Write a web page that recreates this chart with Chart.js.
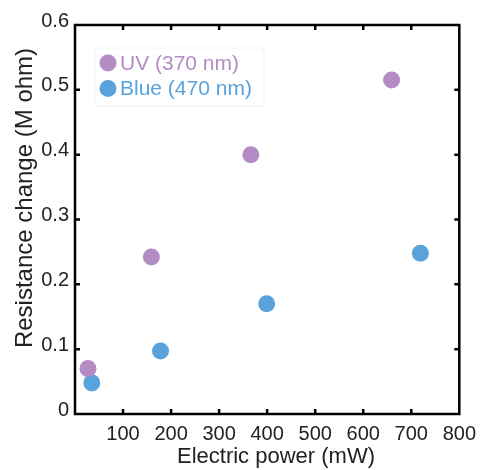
<!DOCTYPE html>
<html>
<head>
<meta charset="utf-8">
<script src="https://cdn.jsdelivr.net/npm/chart.js@4"></script>
<style>
  html, body { margin: 0; padding: 0; background: #fff; }
  #wrap { width: 484px; height: 470px; }
</style>
</head>
<body>
<div id="wrap"><canvas id="myChart" width="484" height="470"></canvas></div>
<script>
// data
const uvPower = [27, 159, 366, 659];
const uvResistance = [0.07, 0.242, 0.40, 0.515];
const bluePower = [35, 178, 399, 719];
const blueResistance = [0.048, 0.097, 0.17, 0.248];
const seriesNames = ['UV (370 nm)', 'Blue (470 nm)'];
const seriesColors = ['#b38cc4', '#5aa2db'];
const xTitle = 'Electric power (mW)';
const yTitle = 'Resistance change (M ohm)';

const fontFamily = '"Liberation Sans", Arial, sans-serif';

function toPoints(xs, ys) {
    return xs.map((x, i) => ({ x: x, y: ys[i] }));
}

// frame with inward ticks on all sides, axis titles, legend inside the plot
const frameTicks = {
    id: 'frameTicks',
    afterDraw(chart) {
        const ctx = chart.ctx;
        const a = chart.chartArea;
        const xs = chart.scales.x, ys = chart.scales.y;
        ctx.save();
        ctx.strokeStyle = '#000';
        ctx.lineWidth = 2.5;
        const len = 5;
        xs.ticks.forEach(t => {
            const px = xs.getPixelForValue(t.value);
            if (px <= a.left + 1 || px >= a.right - 1) return;
            ctx.beginPath();
            ctx.moveTo(px, a.bottom); ctx.lineTo(px, a.bottom - len);
            ctx.moveTo(px, a.top); ctx.lineTo(px, a.top + len);
            ctx.stroke();
        });
        ys.ticks.forEach(t => {
            const py = ys.getPixelForValue(t.value);
            if (py <= a.top + 1 || py >= a.bottom - 1) return;
            ctx.beginPath();
            ctx.moveTo(a.left, py); ctx.lineTo(a.left + len, py);
            ctx.moveTo(a.right, py); ctx.lineTo(a.right - len, py);
            ctx.stroke();
        });
        ctx.strokeRect(a.left, a.top, a.right - a.left, a.bottom - a.top);

        // axis titles
        ctx.fillStyle = '#222';
        ctx.textAlign = 'center';
        ctx.textBaseline = 'middle';
        ctx.font = '22px ' + fontFamily;
        ctx.fillText(xTitle, 276, 457);
        ctx.save();
        ctx.translate(25, 198);
        ctx.rotate(-Math.PI / 2);
        ctx.font = '24px ' + fontFamily;
        ctx.fillText(yTitle, 0, 0);
        ctx.restore();

        // legend
        ctx.strokeStyle = '#f3f3f3';
        ctx.lineWidth = 1;
        ctx.strokeRect(a.left + 20, a.top + 23, 169, 58);
        ctx.font = '21px ' + fontFamily;
        ctx.textAlign = 'left';
        seriesNames.forEach((name, i) => {
            const cy = a.top + 38 + i * 25.5;
            ctx.fillStyle = seriesColors[i];
            ctx.beginPath();
            ctx.arc(a.left + 33, cy, 8.5, 0, Math.PI * 2);
            ctx.fill();
            ctx.fillText(name, a.left + 45, cy + 1);
        });
        ctx.restore();
    }
};

const data = {
    datasets: seriesNames.map((name, i) => ({
        label: name,
        data: i === 0 ? toPoints(uvPower, uvResistance) : toPoints(bluePower, blueResistance),
        backgroundColor: seriesColors[i],
        borderWidth: 0,
        pointRadius: 8.5,
        pointHoverRadius: 8.5
    }))
};

const tickFont = { family: fontFamily, size: 20 };

const config = {
    type: 'scatter',
    data: data,
    options: {
        responsive: false,
        animation: false,
        layout: { padding: { top: 25, right: 21, left: 0, bottom: 0 } },
        plugins: { legend: { display: false }, tooltip: { enabled: false } },
        scales: {
            x: {
                type: 'linear',
                min: 0,
                max: 800,
                border: { display: false },
                grid: { display: false, drawTicks: false },
                ticks: {
                    stepSize: 100,
                    color: '#222',
                    font: tickFont,
                    padding: 8,
                    maxRotation: 0,
                    autoSkip: false,
                    callback: v => v === 0 ? '' : v
                },
                afterFit: s => { s.height = 56; }
            },
            y: {
                type: 'linear',
                min: 0,
                max: 0.6,
                border: { display: false },
                grid: { display: false, drawTicks: false },
                ticks: {
                    stepSize: 0.1,
                    color: '#222',
                    font: tickFont,
                    padding: 6,
                    labelOffset: -4,
                    callback: v => +v.toFixed(1)
                },
                afterFit: s => { s.width = 75; }
            }
        }
    },
    plugins: [frameTicks]
};

const ctx = document.getElementById('myChart').getContext('2d');
const myChart = new Chart(ctx, config);
</script>
</body>
</html>
